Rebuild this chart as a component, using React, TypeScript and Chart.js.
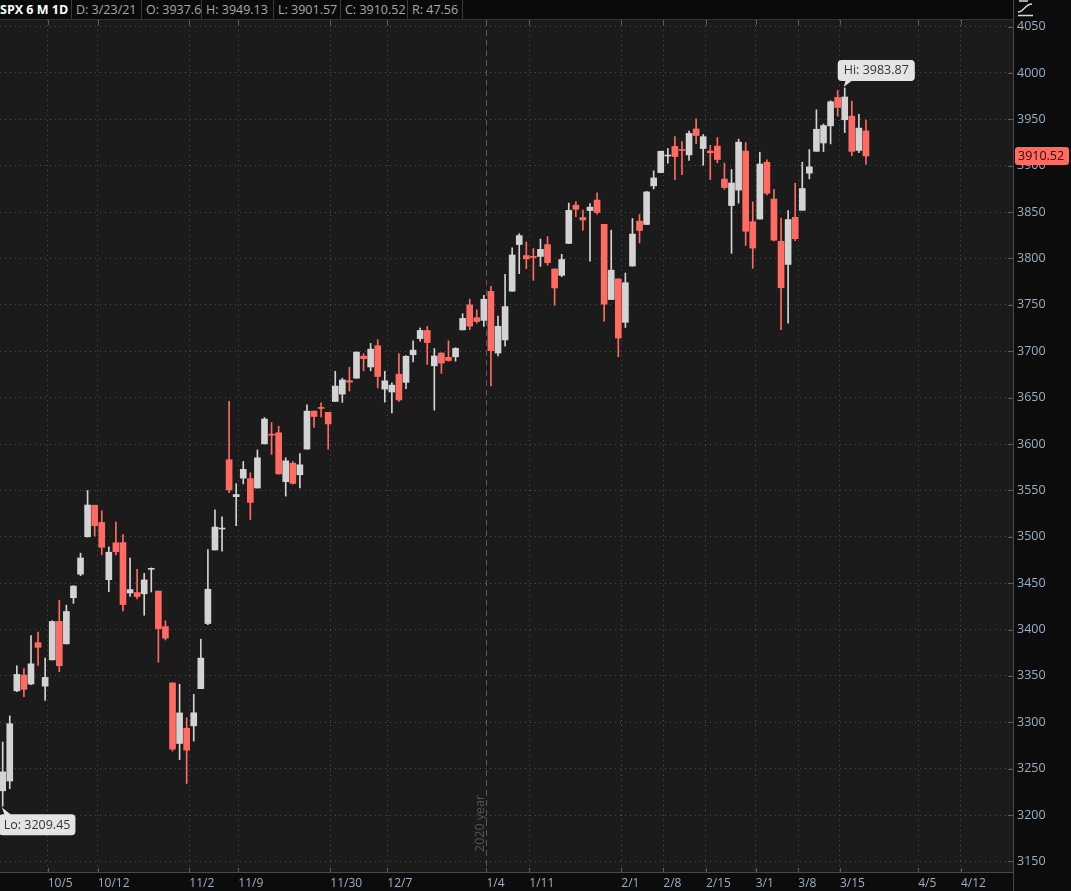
import React, { useEffect, useRef } from 'react';
import { Chart, registerables } from 'chart.js';

Chart.register(...registerables);

// ---- data ----
const dates = [
  '9/24','9/25','9/28','9/29','9/30','10/1','10/2','10/5','10/6','10/7','10/8','10/9','10/12','10/13','10/14','10/15','10/16','10/19','10/20','10/21','10/22','10/23','10/26','10/27','10/28','10/29','10/30',
  '11/2','11/3','11/4','11/5','11/6','11/9','11/10','11/11','11/12','11/13','11/16','11/17','11/18','11/19','11/20','11/23','11/24','11/25','11/27','11/30',
  '12/1','12/2','12/3','12/4','12/7','12/8','12/9','12/10','12/11','12/14','12/15','12/16','12/17','12/18','12/21','12/22','12/23','12/24','12/28','12/29','12/30','12/31',
  '1/4','1/5','1/6','1/7','1/8','1/11','1/12','1/13','1/14','1/15','1/19','1/20','1/21','1/22','1/25','1/26','1/27','1/28','1/29',
  '2/1','2/2','2/3','2/4','2/5','2/8','2/9','2/10','2/11','2/12','2/16','2/17','2/18','2/19','2/22','2/23','2/24','2/25','2/26',
  '3/1','3/2','3/3','3/4','3/5','3/8','3/9','3/10','3/11','3/12','3/15','3/16','3/17','3/18','3/22','3/23'
];
const opens = [
  3226.14,3236.66,3333.90,3350.92,3341.21,3385.87,3338.94,3367.27,3408.74,3384.56,3434.28,3459.67,3500.02,3534.01,3515.47,3453.72,3493.50,3493.66,3439.38,3439.91,3438.50,3464.90,3441.42,3403.15,3342.48,3277.17,3293.59,
  3296.20,3336.25,3406.46,3485.74,3508.34,3583.04,3543.26,3563.22,3562.67,3552.57,3600.16,3610.31,3612.09,3559.41,3579.31,3566.82,3594.52,3635.50,3638.55,3634.18,
  3645.87,3653.78,3668.28,3670.94,3694.73,3683.05,3705.98,3659.13,3656.08,3675.27,3666.41,3696.25,3713.65,3722.39,3684.28,3698.08,3693.42,3694.03,3723.03,3750.01,3736.19,3733.27,
  3764.61,3698.02,3712.20,3764.71,3815.05,3803.14,3801.62,3802.23,3814.98,3788.73,3781.88,3816.22,3857.46,3844.24,3851.68,3862.96,3836.83,3755.75,3778.05,
  3731.17,3791.84,3840.27,3836.66,3878.30,3892.59,3910.49,3920.78,3916.40,3911.65,3939.61,3918.50,3915.86,3921.16,3885.55,3857.07,3873.71,3915.80,3839.66,
  3842.51,3903.64,3863.99,3818.53,3793.58,3844.39,3851.93,3891.99,3915.54,3924.52,3942.96,3973.59,3949.57,3953.50,3916.48,3937.60
];
const highs = [
  3278.70,3306.88,3360.74,3357.92,3393.56,3397.18,3369.10,3409.57,3431.56,3426.26,3447.28,3482.34,3549.85,3534.01,3527.94,3489.08,3515.76,3502.42,3476.93,3464.86,3460.53,3466.46,3441.42,3409.51,3342.48,3341.05,3304.93,
  3330.14,3389.49,3486.25,3529.05,3521.58,3645.99,3557.22,3581.16,3569.02,3593.66,3628.51,3623.11,3619.09,3585.22,3581.23,3589.81,3642.31,3635.50,3644.31,3634.18,
  3678.45,3670.96,3682.73,3699.20,3697.41,3708.45,3712.39,3678.49,3665.91,3697.61,3695.29,3711.27,3725.12,3726.70,3702.90,3698.26,3711.24,3703.82,3740.51,3756.12,3744.63,3760.20,
  3769.99,3737.83,3783.04,3811.55,3826.69,3817.86,3810.78,3820.96,3823.60,3788.73,3804.53,3859.75,3861.45,3852.31,3859.23,3870.90,3836.83,3830.50,3778.05,
  3784.32,3843.09,3847.51,3872.42,3894.56,3915.77,3918.35,3931.50,3925.99,3937.23,3950.43,3933.61,3921.98,3930.41,3902.92,3895.98,3928.65,3925.02,3861.08,
  3914.50,3906.41,3874.47,3843.67,3851.69,3881.06,3903.76,3917.35,3960.27,3944.99,3970.08,3981.04,3983.87,3969.62,3955.31,3949.13
];
const lows = [
  3209.45,3228.44,3332.91,3327.54,3340.47,3361.39,3323.69,3367.27,3354.54,3384.56,3428.15,3458.07,3499.61,3500.86,3480.55,3440.89,3480.45,3419.93,3435.65,3433.06,3415.34,3440.45,3364.86,3388.71,3268.89,3259.82,3233.94,
  3279.74,3336.25,3405.17,3485.74,3484.34,3547.48,3511.91,3557.00,3518.58,3552.57,3600.16,3588.68,3567.33,3543.84,3556.85,3552.77,3594.52,3617.76,3629.33,3594.39,
  3645.87,3644.84,3657.17,3670.94,3678.88,3678.83,3660.54,3645.18,3633.40,3645.84,3659.62,3688.57,3710.87,3685.84,3636.48,3676.16,3689.28,3689.32,3723.03,3723.31,3730.21,3726.88,
  3662.71,3695.07,3705.34,3764.71,3783.60,3789.02,3776.51,3791.50,3792.86,3749.62,3780.37,3816.22,3845.05,3830.41,3797.16,3847.78,3732.48,3755.75,3694.12,
  3725.62,3791.84,3816.68,3836.66,3874.93,3892.59,3902.64,3884.94,3890.39,3905.78,3923.85,3900.43,3885.03,3903.07,3874.71,3805.59,3859.60,3814.04,3789.54,
  3842.51,3868.57,3818.86,3723.34,3730.19,3819.25,3851.93,3885.73,3915.54,3915.21,3923.54,3953.44,3935.74,3910.86,3914.16,3901.57
];
const closes = [
  3246.59,3298.46,3351.60,3335.47,3363.00,3380.80,3348.42,3408.63,3360.97,3419.44,3446.83,3477.14,3534.22,3511.93,3488.67,3483.34,3483.81,3426.92,3443.12,3435.56,3453.49,3465.39,3400.97,3390.68,3271.03,3310.11,3269.96,
  3310.24,3369.16,3443.44,3510.45,3509.44,3550.50,3545.53,3572.66,3537.01,3585.15,3626.91,3609.53,3567.79,3581.87,3557.54,3577.59,3635.41,3629.65,3638.35,3621.63,
  3662.45,3669.01,3666.72,3699.12,3691.96,3702.25,3672.82,3668.10,3663.46,3647.49,3694.62,3701.17,3722.48,3709.41,3694.92,3687.26,3690.01,3703.06,3735.36,3727.04,3732.04,3756.07,
  3700.65,3726.86,3748.14,3803.79,3824.68,3799.61,3801.19,3809.84,3795.54,3768.25,3798.91,3851.85,3853.07,3841.47,3855.36,3849.62,3750.77,3787.38,3714.24,
  3773.86,3826.31,3830.17,3871.74,3886.83,3915.59,3911.23,3909.88,3916.38,3934.83,3932.59,3931.33,3913.97,3906.71,3876.50,3881.37,3925.43,3829.34,3811.15,
  3901.82,3870.29,3819.72,3768.47,3841.94,3821.35,3875.44,3898.81,3939.34,3943.34,3968.94,3962.71,3974.12,3915.46,3940.59,3910.52
];

const weekLabels = ['10/5','10/12','11/2','11/9','11/30','12/7','1/4','1/11','2/1','2/8','2/15','3/1','3/8','3/15','4/5','4/12'];
const weekTickDays = [6.36,13.43,26.37,33.3,46.3,54.35,68.37,74.42,87.42,93.36,99.39,106.42,112.44,118.33,129.39,135.43];
const priceTicks = [3150,3200,3250,3300,3350,3400,3450,3500,3550,3600,3650,3700,3750,3800,3850,3900,3950,4000,4050];
const yearLabel = '2020 year';
const yearTickLabel = '1/4';
const symbolLabel = 'SPX 6 M 1D';
const lastDateLabel = 'D: 3/23/21';

// ---- styles ----
const UP = '#d3d3d3';
const DOWN = '#ff6b62';
const AXIS_TEXT = '#9cafc3';
const GRID = '#4e4e4e';
const FONT = "'Open Sans', 'DejaVu Sans', sans-serif";

const fmt = (v: number) => String(Number(v.toFixed(2)));
const colorOf = (i: number) => (closes[i] >= opens[i] ? UP : DOWN);

function roundRect(ctx: CanvasRenderingContext2D, x: number, y: number, w: number, h: number, r: number) {
  ctx.beginPath();
  ctx.moveTo(x + r, y);
  ctx.lineTo(x + w - r, y);
  ctx.quadraticCurveTo(x + w, y, x + w, y + r);
  ctx.lineTo(x + w, y + h - r);
  ctx.quadraticCurveTo(x + w, y + h, x + w - r, y + h);
  ctx.lineTo(x + r, y + h);
  ctx.quadraticCurveTo(x, y + h, x, y + h - r);
  ctx.lineTo(x, y + r);
  ctx.quadraticCurveTo(x, y, x + r, y);
  ctx.closePath();
}

const overlayPlugin = {
  id: 'overlay',
  beforeDraw(chart: any) {
    const { ctx, chartArea } = chart;
    ctx.save();
    ctx.fillStyle = '#1b1b1b';
    ctx.fillRect(chartArea.left, chartArea.top, chartArea.right - chartArea.left, chartArea.bottom - chartArea.top);
    ctx.restore();
  },
  beforeDatasetsDraw(chart: any) {
    const { ctx, chartArea, scales } = chart;
    const yi = weekLabels.indexOf(yearTickLabel);
    const xLine = Math.round(scales.x.getPixelForValue(weekTickDays[yi])) + 0.5;
    ctx.save();
    ctx.strokeStyle = '#5a5a5a';
    ctx.lineWidth = 1;
    ctx.setLineDash([6, 4]);
    ctx.beginPath();
    ctx.moveTo(xLine, chartArea.top);
    ctx.lineTo(xLine, chartArea.bottom);
    ctx.stroke();
    ctx.setLineDash([]);
    ctx.translate(xLine - 3, chartArea.bottom - 20);
    ctx.rotate(-Math.PI / 2);
    ctx.font = `12.5px ${FONT}`;
    ctx.fillStyle = '#545454';
    ctx.textAlign = 'left';
    ctx.textBaseline = 'alphabetic';
    ctx.fillText(yearLabel, 0, 0);
    ctx.restore();
  },
  afterDraw(chart: any) {
    const { ctx, chartArea, scales } = chart;
    const W = chart.width;
    const H = chart.height;
    ctx.save();
    // axis separators
    ctx.strokeStyle = '#4a4a4a';
    ctx.lineWidth = 1;
    ctx.beginPath();
    ctx.moveTo(chartArea.right + 0.5, 0);
    ctx.lineTo(chartArea.right + 0.5, H);
    ctx.moveTo(0, chartArea.bottom + 0.5);
    ctx.lineTo(chartArea.right, chartArea.bottom + 0.5);
    ctx.stroke();
    // tick marks
    ctx.strokeStyle = '#5c5c5c';
    ctx.beginPath();
    weekTickDays.forEach((d) => {
      const x = Math.round(scales.x.getPixelForValue(d)) + 0.5;
      ctx.moveTo(x, chartArea.bottom - 4);
      ctx.lineTo(x, chartArea.bottom);
      ctx.moveTo(x, chartArea.top);
      ctx.lineTo(x, chartArea.top + 5);
    });
    priceTicks.forEach((p) => {
      const y = Math.round(scales.y.getPixelForValue(p)) + 0.5;
      ctx.moveTo(chartArea.right - 5, y);
      ctx.lineTo(chartArea.right, y);
    });
    ctx.stroke();

    ctx.font = `12.5px ${FONT}`;
    ctx.textBaseline = 'middle';
    ctx.textAlign = 'left';

    // Hi callout
    let hiIdx = 0;
    let loIdx = 0;
    highs.forEach((v, i) => { if (v > highs[hiIdx]) hiIdx = i; });
    lows.forEach((v, i) => { if (v < lows[loIdx]) loIdx = i; });
    const hx = scales.x.getPixelForValue(hiIdx);
    const hy = scales.y.getPixelForValue(highs[hiIdx]);
    const hiText = 'Hi: ' + fmt(highs[hiIdx]);
    const hw = ctx.measureText(hiText).width + 12;
    const hbTop = hy - 28;
    ctx.fillStyle = '#e4e4e4';
    roundRect(ctx, hx - 7, hbTop, hw, 21, 4);
    ctx.fill();
    ctx.beginPath();
    ctx.moveTo(hx + 1, hbTop + 20);
    ctx.lineTo(hx + 8, hbTop + 20);
    ctx.lineTo(hx - 1, hy - 1);
    ctx.closePath();
    ctx.fill();
    ctx.fillStyle = '#30363d';
    ctx.fillText(hiText, hx - 1, hbTop + 11);

    // Lo callout
    const lx = scales.x.getPixelForValue(loIdx);
    const ly = scales.y.getPixelForValue(lows[loIdx]);
    const loText = 'Lo: ' + fmt(lows[loIdx]);
    const lw = ctx.measureText(loText).width + 10;
    const lbTop = ly + 8;
    ctx.fillStyle = '#e4e4e4';
    roundRect(ctx, lx - 4, lbTop, lw, 21, 4);
    ctx.fill();
    ctx.beginPath();
    ctx.moveTo(lx + 2, lbTop + 1);
    ctx.lineTo(lx + 9, lbTop + 1);
    ctx.lineTo(lx - 1, ly + 1);
    ctx.closePath();
    ctx.fill();
    ctx.fillStyle = '#30363d';
    ctx.fillText(loText, lx + 1, lbTop + 11);

    // last price tag
    const last = closes.length - 1;
    const py = scales.y.getPixelForValue(closes[last]);
    ctx.fillStyle = '#ff6b62';
    roundRect(ctx, chartArea.right + 2, py - 9, 54, 18, 3);
    ctx.fill();
    ctx.fillStyle = '#2a0806';
    ctx.font = `12.5px ${FONT}`;
    ctx.fillText(fmt(closes[last]), chartArea.right + 5, py + 0.5);

    // top-right icon
    ctx.strokeStyle = '#d8d8d8';
    ctx.lineWidth = 1.4;
    ctx.beginPath();
    ctx.moveTo(W - 52, 1);
    ctx.lineTo(W - 43, 1);
    ctx.moveTo(W - 53, 15.5);
    ctx.lineTo(W - 38, 15.5);
    ctx.moveTo(W - 53, 12);
    ctx.bezierCurveTo(W - 47, 12, W - 46, 4, W - 39, 4);
    ctx.stroke();
    ctx.restore();
  },
};

export default function App() {
  const canvasRef = useRef<HTMLCanvasElement | null>(null);

  useEffect(() => {
    const canvas = canvasRef.current;
    if (!canvas) return;
    const bodyData = dates.map((_, i) => ({ x: i, y: [opens[i], closes[i]] }));
    const wickData = dates.map((_, i) => ({ x: i, y: [lows[i], highs[i]] }));
    const colors = dates.map((_, i) => colorOf(i));

    const chart = new Chart(canvas, {
      type: 'bar',
      data: {
        datasets: [
          {
            label: 'body',
            data: bodyData as any,
            backgroundColor: colors,
            barThickness: 6,
            minBarLength: 1,
            grouped: false,
            borderWidth: 0,
            order: 0,
          } as any,
          {
            label: 'wick',
            data: wickData as any,
            backgroundColor: colors,
            barThickness: 1,
            grouped: false,
            borderWidth: 0,
            order: 1,
          } as any,
        ],
      },
      options: {
        animation: false,
        responsive: false,
        devicePixelRatio: 1,
        layout: { padding: { top: 20, left: 0, right: 0, bottom: 0 } },
        plugins: { legend: { display: false }, tooltip: { enabled: false } },
        scales: {
          x: {
            type: 'linear',
            min: -0.38,
            max: 142.78,
            offset: false,
            afterFit: (s: any) => { s.height = 19; },
            afterBuildTicks: (s: any) => { s.ticks = weekTickDays.map((v) => ({ value: v })); },
            ticks: {
              autoSkip: false,
              maxRotation: 0,
              minRotation: 0,
              align: 'start',
              color: AXIS_TEXT,
              padding: 4,
              font: { family: FONT, size: 12 },
              callback: (_v: any, i: number) => weekLabels[i],
            },
            grid: { color: GRID, drawTicks: false, offset: false, lineWidth: 1 },
            border: { display: false, dash: [1, 4] },
          } as any,
          y: {
            type: 'linear',
            position: 'right',
            min: 3138.6,
            max: 4057.1,
            afterFit: (s: any) => { s.width = 58; },
            afterBuildTicks: (s: any) => { s.ticks = priceTicks.map((v) => ({ value: v })); },
            ticks: {
              color: AXIS_TEXT,
              padding: 4,
              font: { family: FONT, size: 12.5 },
              callback: (v: any) => String(v),
            },
            grid: { color: GRID, drawTicks: false, lineWidth: 1 },
            border: { display: false, dash: [1, 4] },
          } as any,
        },
      },
      plugins: [overlayPlugin as any],
    });
    return () => chart.destroy();
  }, []);

  const last = closes.length - 1;
  const cells = [
    { text: symbolLabel, w: 72, bold: true },
    { text: lastDateLabel, w: 70 },
    { text: 'O: ' + fmt(opens[last]), w: 60 },
    { text: 'H: ' + fmt(highs[last]), w: 72 },
    { text: 'L: ' + fmt(lows[last]), w: 67 },
    { text: 'C: ' + fmt(closes[last]), w: 67 },
    { text: 'R: ' + fmt(highs[last] - lows[last]), w: 55 },
  ];

  return (
    <div style={{ position: 'absolute', left: 0, top: 0, width: 1071, height: 891, background: '#0c0c0c', overflow: 'hidden' }}>
      <canvas ref={canvasRef} width={1071} height={891} style={{ position: 'absolute', left: 0, top: 0, width: 1071, height: 891 }} />
      <div style={{ position: 'absolute', left: 0, top: 0, width: 1013, height: 19, borderBottom: '1px solid #333', display: 'flex', fontFamily: FONT, background: '#0a0a0a' }}>
        {cells.map((c, i) => (
          <div
            key={i}
            style={{
              width: c.w,
              flex: 'none',
              boxSizing: 'border-box',
              borderRight: '1px solid #3a3a3a',
              paddingLeft: i === 0 ? 0 : 4,
              lineHeight: '19px',
              whiteSpace: 'nowrap',
              fontSize: 12.5,
              fontWeight: c.bold ? 700 : 400,
              color: c.bold ? '#ffffff' : '#a8a8a8',
            }}
          >
            {c.text}
          </div>
        ))}
      </div>
    </div>
  );
}
